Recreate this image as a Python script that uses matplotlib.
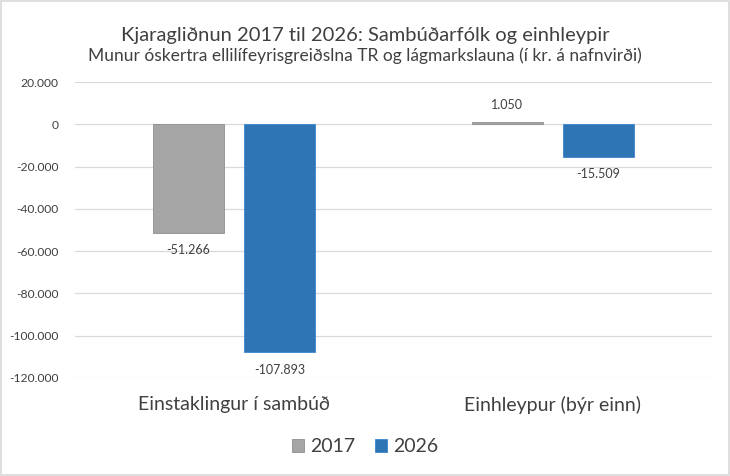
import matplotlib
matplotlib.use("Agg")
import matplotlib.pyplot as plt
import numpy as np
from matplotlib.ticker import FuncFormatter

# ── data ────────────────────────────────────────────────────────────────────
categories = ["Einstaklingur í sambúð", "Einhleypur (býr einn)"]
years = ["2017", "2026"]
vals_2017 = [-51266, 1050]
vals_2026 = [-107893, -15509]

title = "Kjaragliðnun 2017 til 2026: Sambúðarfólk og einhleypir"
subtitle = "Munur óskertra ellilífeyrisgreiðslna TR og lágmarkslauna (í kr. á nafnvirði)"

plt.rcParams["font.family"] = ["Lato", "DejaVu Sans"]

GRAY = "#A5A5A5"
BLUE = "#2E75B6"
TXT = "#404040"


def fmt(v):
    s = f"{abs(int(v)):,}".replace(",", ".")
    return "-" + s if v < 0 else s


fig = plt.figure(figsize=(7.3, 4.76), dpi=100)
ax = fig.add_axes([0.1027, 0.2059, 0.8726, 0.6218])

x = np.arange(len(categories))
w = 0.223
off = 0.143
b1 = ax.bar(x - off, vals_2017, w, color=GRAY, edgecolor="#8E8E8E", linewidth=0.6, label=years[0], zorder=3)
b2 = ax.bar(x + off, vals_2026, w, color=BLUE, edgecolor="#3D84CC", linewidth=0.6, label=years[1], zorder=3)

for bars in (b1, b2):
    for rect in bars:
        v = rect.get_height()
        cx = rect.get_x() + rect.get_width() / 2
        if v >= 0:
            ax.annotate(fmt(v), (cx, v), xytext=(0, 8), textcoords="offset points",
                        ha="center", va="bottom", fontsize=9, color=TXT)
        else:
            ax.annotate(fmt(v), (cx, v), xytext=(0, -8), textcoords="offset points",
                        ha="center", va="top", fontsize=9, color=TXT)

ax.set_xlim(-0.5, 1.5)
ax.set_ylim(-120000, 20000)
ax.set_yticks(np.arange(-120000, 20001, 20000))
ax.yaxis.set_major_formatter(FuncFormatter(lambda v, p: fmt(v)))
ax.tick_params(axis="y", length=0, labelsize=8.7, labelcolor=TXT, pad=12)
ax.set_xticks(x)
ax.set_xticklabels(categories, fontsize=14, color=TXT)
ax.tick_params(axis="x", length=0, pad=13)
ax.grid(axis="y", color="#D9D9D9", linewidth=0.9, zorder=0)
for s in ax.spines.values():
    s.set_visible(False)

fig.text(0.5, 0.925, title, ha="center", va="center", fontsize=14.5, color=TXT)
fig.text(0.5, 0.882, subtitle, ha="center", va="center", fontsize=12.5, color=TXT)

fig.legend(loc="center", bbox_to_anchor=(0.5, 0.061), ncol=2, frameon=False,
           fontsize=14, handlelength=0.65, handleheight=0.65, handletextpad=0.3,
           columnspacing=1.0, labelcolor=TXT)

fig.patches.append(plt.Rectangle((0.002, 0.003), 0.996, 0.994, transform=fig.transFigure,
                                 fill=False, edgecolor="#D9D9D9", linewidth=1.2))

fig.savefig("out.png", dpi=100)
